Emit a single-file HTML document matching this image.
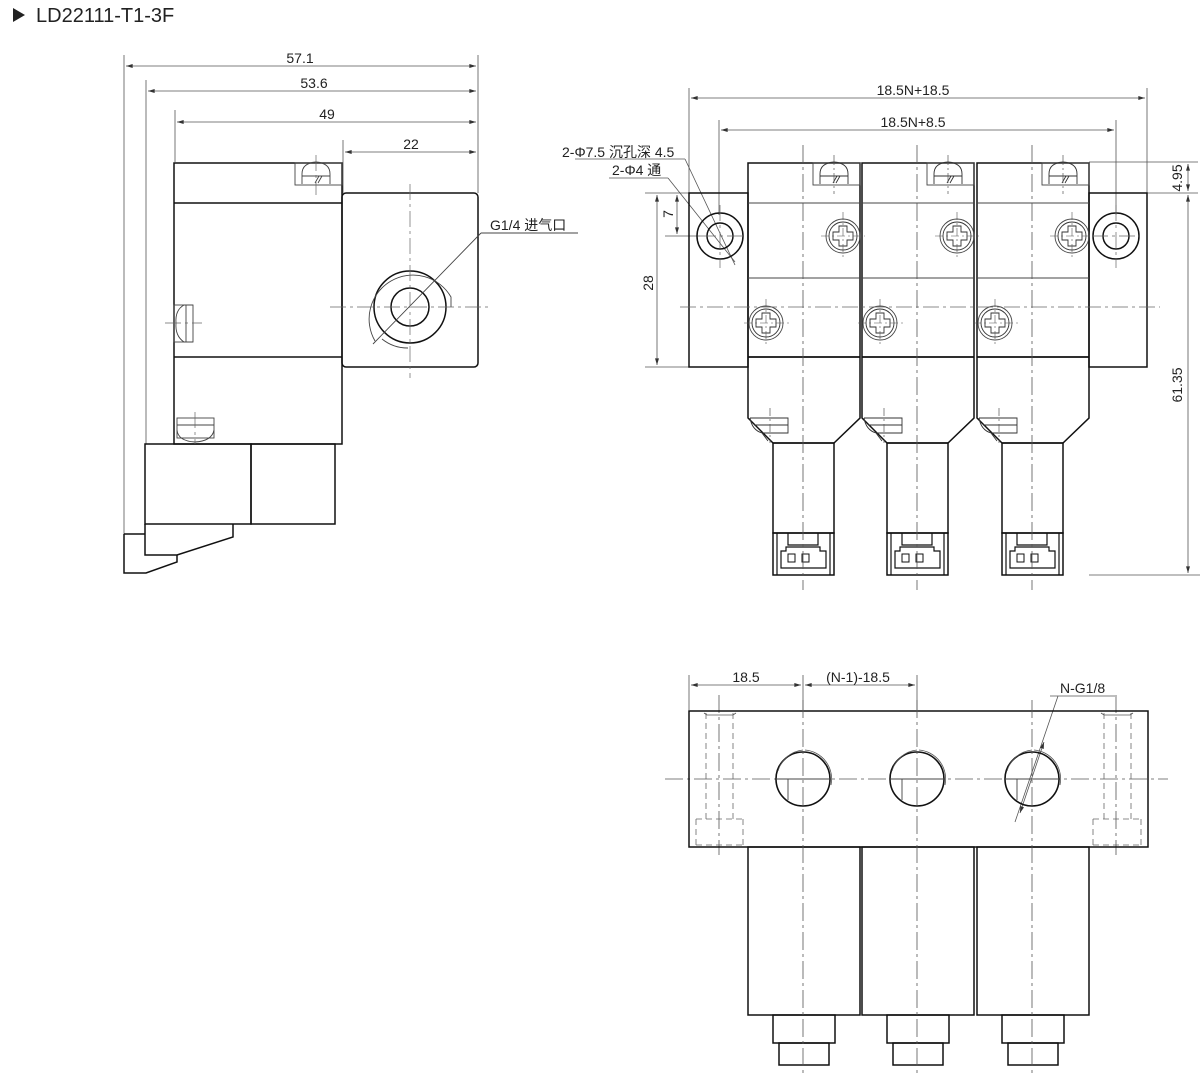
<!DOCTYPE html>
<html><head><meta charset="utf-8"><style>
html,body{margin:0;padding:0;background:#fff;}
svg{display:block;}
text{font-family:"Liberation Sans","Noto Sans CJK SC",sans-serif;fill:#222;}
</style></head><body>
<svg width="1200" height="1074" viewBox="0 0 1200 1074" xmlns="http://www.w3.org/2000/svg">
<defs>
<marker id="ar" viewBox="0 0 10 6" refX="10" refY="3" markerWidth="9" markerHeight="5" orient="auto-start-reverse"><path d="M0,0 L10,3 L0,6 Z" fill="#333"/></marker>
<g id="mod">
  <path d="M0,163 H112 V418 L86,443 H25 L0,418 Z" fill="none" stroke="#111" stroke-width="1.5"/>
  <line x1="0" y1="203" x2="112" y2="203" stroke="#444" stroke-width="1"/>
  <line x1="0" y1="278" x2="112" y2="278" stroke="#444" stroke-width="1"/>
  <line x1="0" y1="357" x2="112" y2="357" stroke="#111" stroke-width="1.8"/>
  <rect x="25" y="443" width="61" height="90" fill="none" stroke="#111" stroke-width="1.5"/>
  <rect x="25" y="533" width="61" height="42" fill="none" stroke="#111" stroke-width="1.5"/>
  <path d="M29,533 V575 M82,533 V575 M40,533 V545 H70 V533 M33,551 H38 V547 H72 V551 H78 V568 H33 Z" fill="none" stroke="#111" stroke-width="1.2"/>
  <rect x="40" y="554" width="7" height="8" fill="none" stroke="#111" stroke-width="1"/>
  <rect x="54" y="554" width="7" height="8" fill="none" stroke="#111" stroke-width="1"/>
  <rect x="65" y="163" width="47" height="22" fill="none" stroke="#444" stroke-width="0.9"/>
  <path d="M72,184 V174 Q72,163 86,162 Q100,163 100,174 V184 M72,176 H100 M85,183 L89,176 M88,183 L92,176" fill="none" stroke="#333" stroke-width="0.9"/>
  <line x1="86" y1="155" x2="86" y2="194" stroke="#555" stroke-width="0.7" stroke-dasharray="10,3,2,3"/>
  <path d="M2,418 Q4,430 14,433 L20,441 M2,418 H40 V433 H14 M6,425 H40" fill="none" stroke="#333" stroke-width="0.9"/>
  <line x1="22" y1="408" x2="22" y2="443" stroke="#555" stroke-width="0.7" stroke-dasharray="8,3,2,3"/>
  <circle cx="95" cy="236" r="17" fill="none" stroke="#444" stroke-width="0.9"/>
  <circle cx="95" cy="236" r="14" fill="none" stroke="#333" stroke-width="0.9"/>
  <path d="M91,226 H99 V232 H105 V240 H99 V246 H91 V240 H85 V232 H91 Z" fill="none" stroke="#333" stroke-width="0.9"/>
  <path d="M95,212 V260 M73,236 H117" stroke="#555" stroke-width="0.6" stroke-dasharray="8,3,2,3"/>
  <circle cx="18" cy="323" r="17" fill="none" stroke="#444" stroke-width="0.9"/>
  <circle cx="18" cy="323" r="14" fill="none" stroke="#333" stroke-width="0.9"/>
  <path d="M14,313 H22 V319 H28 V327 H22 V333 H14 V327 H8 V319 H14 Z" fill="none" stroke="#333" stroke-width="0.9"/>
  <path d="M18,299 V347 M-4,323 H42" stroke="#555" stroke-width="0.6" stroke-dasharray="8,3,2,3"/>
  <line x1="55" y1="145" x2="55" y2="590" stroke="#555" stroke-width="0.8" stroke-dasharray="18,4,3,4"/>
</g>
<g id="modb">
  <rect x="0" y="847" width="112" height="168" fill="none" stroke="#111" stroke-width="1.5"/>
  <rect x="25" y="1015" width="62" height="28" fill="none" stroke="#111" stroke-width="1.5"/>
  <rect x="31" y="1043" width="50" height="22" fill="none" stroke="#111" stroke-width="1.5"/>
  <circle cx="55" cy="779" r="27" fill="none" stroke="#111" stroke-width="1.6"/>
  <path d="M30,771 A29,29 0 0 1 55,750" fill="none" stroke="#555" stroke-width="0.8"/>
  <path d="M57,750 A29,29 0 0 1 83,785" fill="none" stroke="#555" stroke-width="0.8"/>
  <path d="M28,779 H82 M40,779 V800" stroke="#444" stroke-width="0.9"/>
  <line x1="55" y1="700" x2="55" y2="1074" stroke="#555" stroke-width="0.8" stroke-dasharray="18,4,3,4"/>
</g>
</defs>

<path d="M13,8 L25,15 L13,22 Z" fill="#222"/>
<text x="36" y="22" font-size="20">LD22111-T1-3F</text>

<g stroke="#555" stroke-width="0.8" fill="none">
  <line x1="124" y1="55" x2="124" y2="534"/>
  <line x1="146" y1="80" x2="146" y2="444"/>
  <line x1="175" y1="110" x2="175" y2="162"/>
  <line x1="343" y1="140" x2="343" y2="193"/>
  <line x1="478" y1="55" x2="478" y2="193"/>
  <line x1="126" y1="66" x2="476" y2="66" marker-start="url(#ar)" marker-end="url(#ar)"/>
  <line x1="148" y1="91" x2="476" y2="91" marker-start="url(#ar)" marker-end="url(#ar)"/>
  <line x1="177" y1="122" x2="476" y2="122" marker-start="url(#ar)" marker-end="url(#ar)"/>
  <line x1="345" y1="152" x2="476" y2="152" marker-start="url(#ar)" marker-end="url(#ar)"/>
</g>
<text x="300" y="63" font-size="14" text-anchor="middle">57.1</text>
<text x="314" y="88" font-size="14" text-anchor="middle">53.6</text>
<text x="327" y="119" font-size="14" text-anchor="middle">49</text>
<text x="411" y="149" font-size="14" text-anchor="middle">22</text>

<g stroke="#111" stroke-width="1.5" fill="none">
  <rect x="174" y="163" width="168" height="281"/>
  <line x1="174" y1="203" x2="342" y2="203"/>
  <line x1="174" y1="357" x2="342" y2="357"/>
  <rect x="342" y="193" width="136" height="174" rx="4"/>
  <circle cx="410" cy="307" r="36"/>
  <circle cx="410" cy="307" r="19"/>
  <rect x="145" y="444" width="106" height="80"/>
  <rect x="251" y="444" width="84" height="80"/>
  <path d="M145,524 V555 H177 L233,537 V524"/>
  <path d="M124,534 H145 M124,534 V573 H146 L177,562 V555"/>
</g>
<g stroke="#444" stroke-width="0.9" fill="none">
  <path d="M375,341 A41,41 0 0 1 451,297 V307"/>
  <path d="M382,339 A41,41 0 0 0 408,348"/>
  <line x1="373" y1="344" x2="481" y2="233"/>
  <line x1="481" y1="233" x2="578" y2="233"/>
  <rect x="295" y="163" width="47" height="22"/>
  <path d="M302,184 V174 Q302,163 316,162 Q330,163 330,174 V184 M302,176 H330 M315,183 L319,176 M318,183 L322,176"/>
  <rect x="174" y="305" width="19" height="37"/>
  <path d="M193,305 H184 Q175,310 176,323 Q175,336 184,342 H193 M186,305 V342"/>
  <rect x="177" y="418" width="37" height="20"/>
  <path d="M177,430 Q178,441 195,442 Q212,441 214,430 M177,425 H214"/>
</g>
<g stroke="#666" stroke-width="0.7" stroke-dasharray="16,4,3,4" fill="none">
  <line x1="410" y1="184" x2="410" y2="378"/>
  <line x1="330" y1="307" x2="490" y2="307"/>
  <line x1="316" y1="155" x2="316" y2="195"/>
  <line x1="165" y1="323" x2="202" y2="323"/>
  <line x1="195" y1="412" x2="195" y2="444"/>
</g>
<text x="490" y="230" font-size="14">G1/4 进气口</text>

<g stroke="#555" stroke-width="0.8" fill="none">
  <line x1="689" y1="88" x2="689" y2="193"/>
  <line x1="1147" y1="88" x2="1147" y2="193"/>
  <line x1="719" y1="120" x2="719" y2="215"/>
  <line x1="1116" y1="120" x2="1116" y2="215"/>
  <line x1="691" y1="98" x2="1145" y2="98" marker-start="url(#ar)" marker-end="url(#ar)"/>
  <line x1="721" y1="130" x2="1114" y2="130" marker-start="url(#ar)" marker-end="url(#ar)"/>
  <line x1="1089" y1="162" x2="1198" y2="162"/>
  <line x1="1147" y1="193" x2="1198" y2="193"/>
  <line x1="1089" y1="575" x2="1200" y2="575"/>
  <line x1="1188" y1="164" x2="1188" y2="191" marker-start="url(#ar)" marker-end="url(#ar)"/>
  <line x1="1188" y1="195" x2="1188" y2="573" marker-start="url(#ar)" marker-end="url(#ar)"/>
  <line x1="645" y1="193" x2="689" y2="193"/>
  <line x1="665" y1="236" x2="700" y2="236"/>
  <line x1="645" y1="367" x2="689" y2="367"/>
  <line x1="677" y1="195" x2="677" y2="234" marker-start="url(#ar)" marker-end="url(#ar)"/>
  <line x1="657" y1="195" x2="657" y2="365" marker-start="url(#ar)" marker-end="url(#ar)"/>
  <line x1="575" y1="159" x2="685" y2="159"/>
  <line x1="609" y1="178" x2="668" y2="178"/>
  <line x1="685" y1="159" x2="735" y2="265"/>
  <line x1="668" y1="178" x2="735" y2="262"/>
</g>
<text x="913" y="95" font-size="14" text-anchor="middle">18.5N+18.5</text>
<text x="913" y="127" font-size="14" text-anchor="middle">18.5N+8.5</text>
<text transform="translate(1182,178) rotate(-90)" font-size="14" text-anchor="middle">4.95</text>
<text transform="translate(1182,385) rotate(-90)" font-size="14" text-anchor="middle">61.35</text>
<text transform="translate(673,214) rotate(-90)" font-size="14" text-anchor="middle">7</text>
<text transform="translate(653,283) rotate(-90)" font-size="14" text-anchor="middle">28</text>
<text x="562" y="157" font-size="14">2-Φ7.5 沉孔深 4.5</text>
<text x="612" y="175" font-size="14">2-Φ4 通</text>

<g stroke="#111" stroke-width="1.5" fill="none">
  <rect x="689" y="193" width="59" height="174"/>
  <rect x="1089" y="193" width="58" height="174"/>
  <circle cx="720" cy="236" r="23"/>
  <circle cx="720" cy="236" r="13"/>
  <circle cx="1116" cy="236" r="23"/>
  <circle cx="1116" cy="236" r="13"/>
</g>
<use href="#mod" transform="translate(748,0)"/>
<use href="#mod" transform="translate(862,0)"/>
<use href="#mod" transform="translate(977,0)"/>
<g stroke="#666" stroke-width="0.7" stroke-dasharray="16,4,3,4" fill="none">
  <line x1="680" y1="307" x2="1160" y2="307"/>
  <line x1="720" y1="205" x2="720" y2="268"/>
  <line x1="1116" y1="205" x2="1116" y2="268"/>
  <line x1="700" y1="236" x2="745" y2="236"/>
  <line x1="1092" y1="236" x2="1140" y2="236"/>
</g>

<g stroke="#555" stroke-width="0.8" fill="none">
  <line x1="689" y1="675" x2="689" y2="710"/>
  <line x1="803" y1="675" x2="803" y2="710"/>
  <line x1="917" y1="675" x2="917" y2="710"/>
  <line x1="691" y1="685" x2="801" y2="685" marker-start="url(#ar)" marker-end="url(#ar)"/>
  <line x1="805" y1="685" x2="915" y2="685" marker-start="url(#ar)" marker-end="url(#ar)"/>
  <line x1="1050" y1="696" x2="1115" y2="696"/>
  <line x1="1058" y1="696" x2="1015" y2="822"/>
  <line x1="1044" y1="742" x2="1020" y2="813" marker-start="url(#ar)" marker-end="url(#ar)"/>
  <line x1="665" y1="779" x2="1168" y2="779" stroke-dasharray="18,4,3,4"/>
  <line x1="719" y1="695" x2="719" y2="855" stroke-dasharray="18,4,3,4"/>
  <line x1="1116" y1="695" x2="1116" y2="855" stroke-dasharray="18,4,3,4"/>
</g>
<text x="746" y="682" font-size="14" text-anchor="middle">18.5</text>
<text x="858" y="682" font-size="14" text-anchor="middle">(N-1)-18.5</text>
<text x="1060" y="693" font-size="14">N-G1/8</text>
<rect x="689" y="711" width="459" height="136" fill="none" stroke="#111" stroke-width="1.5"/>
<g stroke="#666" stroke-width="0.8" stroke-dasharray="6,4" fill="none">
  <path d="M706,713 V819 M733,713 V819 M696,819 H743 M696,819 V845 M743,819 V845 M696,845 H743"/>
  <path d="M1104,713 V819 M1131,713 V819 M1093,819 H1141 M1093,819 V845 M1141,819 V845 M1093,845 H1141"/>
</g>
<path d="M704,713 L707,715 H733 L736,713 M1101,713 L1104,715 H1130 L1133,713" stroke="#555" stroke-width="0.8" fill="none"/>
<use href="#modb" transform="translate(748,0)"/>
<use href="#modb" transform="translate(862,0)"/>
<use href="#modb" transform="translate(977,0)"/>
</svg>
</body></html>
